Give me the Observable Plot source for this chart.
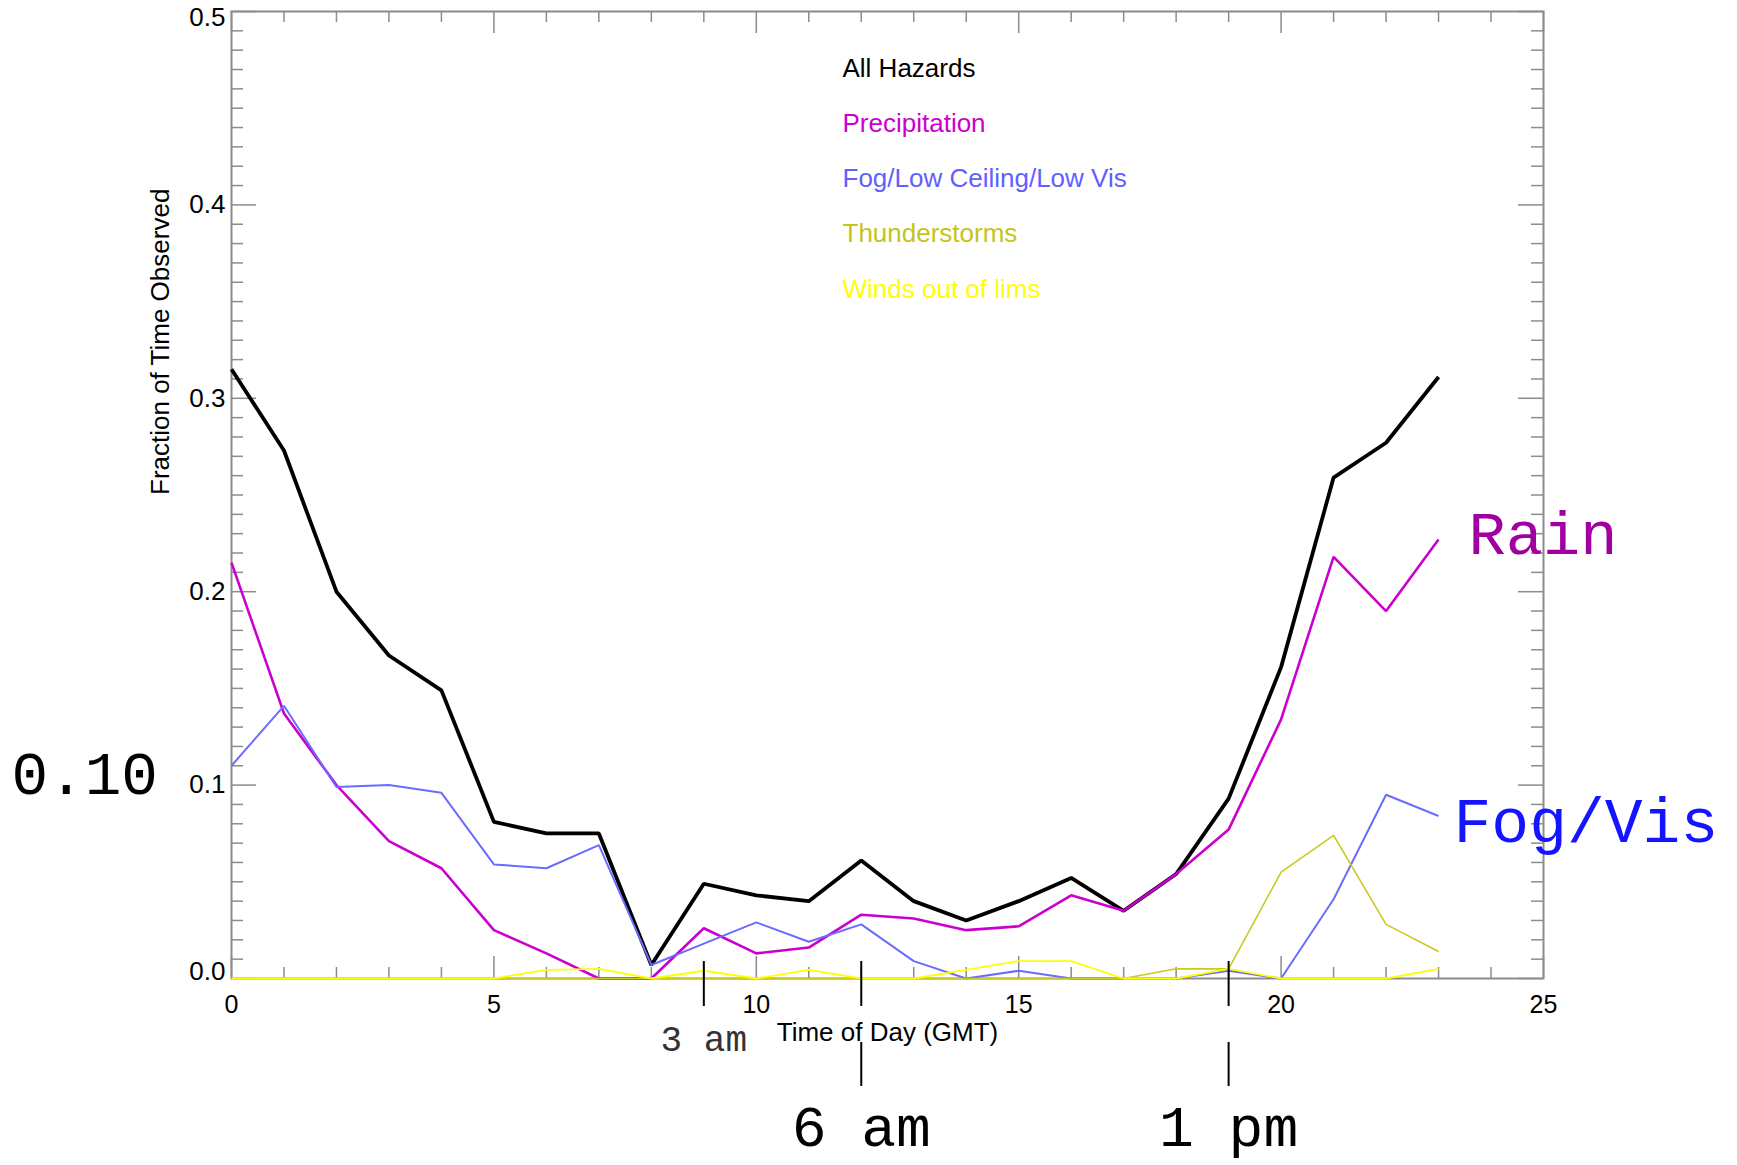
<!DOCTYPE html>
<html>
<head>
<meta charset="utf-8">
<script src="https://cdn.jsdelivr.net/npm/d3@7"></script>
<script src="https://cdn.jsdelivr.net/npm/@observablehq/plot@0.6"></script>
<style>
html, body { margin: 0; padding: 0; background: #fff; }
#chart svg { display: block; }
</style>
</head>
<body>
<div id="chart"></div>
<script>
// ---- data ----
const hours = [0,1,2,3,4,5,6,7,8,9,10,11,12,13,14,15,16,17,18,19,20,21,22,23];
const allHazards    = [0.315,0.273,0.200,0.167,0.149,0.081,0.075,0.075,0.007,0.049,0.043,0.040,0.061,0.040,0.030,0.040,0.052,0.035,0.054,0.093,0.161,0.259,0.277,0.311];
const precipitation = [0.215,0.137,0.100,0.071,0.057,0.025,0.013,0.000,0.000,0.026,0.013,0.016,0.033,0.031,0.025,0.027,0.043,0.035,0.054,0.077,0.134,0.218,0.190,0.227];
const fogLowVis     = [0.110,0.141,0.099,0.100,0.096,0.059,0.057,0.069,0.007,0.018,0.029,0.019,0.028,0.009,0.000,0.004,0.000,0.000,0.000,0.004,0.000,0.041,0.095,0.084];
const thunderstorms = [0,0,0,0,0,0,0,0,0,0,0,0,0,0,0,0,0,0,0.005,0.005,0.055,0.074,0.028,0.014];
const windsOutOfLims= [0,0,0,0,0,0,0.0045,0.005,0,0.004,0,0.0045,0,0,0.0045,0.009,0.009,0,0,0.005,0,0,0,0.005];

const seriesNames = ["All Hazards","Precipitation","Fog/Low Ceiling/Low Vis","Thunderstorms","Winds out of lims"];
const xMajorTicks = [0,5,10,15,20,25];
const yMajorTicks = [0.0,0.1,0.2,0.3,0.4,0.5];
const markerHours = [9,12,19];
const markerLabels = ["3 am","6 am","1 pm"];
const refValue = 0.10;
const refLabel = "0.10";
const xLabel = "Time of Day (GMT)";
const yLabel = "Fraction of Time Observed";

// ---- styles / layout ----
const W = 1737, H = 1165;
const mL = 231, mR = 194, mT = 11, mB = 187;
const FW = W - mL - mR, FH = H - mT - mB;
const seriesValues = [allHazards, precipitation, fogLowVis, thunderstorms, windsOutOfLims];
const lineStyles = [
  {stroke: "#000000", width: 3.8},
  {stroke: "#cc00cc", width: 2.6},
  {stroke: "#6b6bff", width: 2.0},
  {stroke: "#c9c924", width: 1.6},
  {stroke: "#ffff00", width: 1.8}
];
const legendColors = ["#000000","#cc00cc","#6060ff","#c4c41a","#ffff00"];
const axisGray = "#8c8c8c";
const sans = "Liberation Sans, Arial, Helvetica, sans-serif";
const mono = "Liberation Mono, Courier New, Courier, monospace";

const table = seriesNames.flatMap((name, s) =>
  hours.map((h, i) => ({series: name, hour: h, value: seriesValues[s][i]})));

const xMinorTicks = d3.range(0, 26).filter(d => d % 5 !== 0);
const yMinorTicks = d3.range(0, 51).filter(d => d % 10 !== 0).map(d => d / 100);
const fmtY = d3.format(".1f");

const marks = [];

// ticks (inward, on all four sides)
marks.push(Plot.ruleX(xMajorTicks, {x: d => d, insetTop: FH - 22, stroke: axisGray, strokeWidth: 1.5}));
marks.push(Plot.ruleX(xMajorTicks, {x: d => d, insetBottom: FH - 22, stroke: axisGray, strokeWidth: 1.5}));
marks.push(Plot.ruleX(xMinorTicks, {x: d => d, insetTop: FH - 11, stroke: axisGray, strokeWidth: 1.5}));
marks.push(Plot.ruleX(xMinorTicks, {x: d => d, insetBottom: FH - 11, stroke: axisGray, strokeWidth: 1.5}));
marks.push(Plot.ruleY(yMajorTicks, {y: d => d, insetRight: FW - 25, stroke: axisGray, strokeWidth: 1.5}));
marks.push(Plot.ruleY(yMajorTicks, {y: d => d, insetLeft: FW - 25, stroke: axisGray, strokeWidth: 1.5}));
marks.push(Plot.ruleY(yMinorTicks, {y: d => d, insetRight: FW - 12, stroke: axisGray, strokeWidth: 1.5}));
marks.push(Plot.ruleY(yMinorTicks, {y: d => d, insetLeft: FW - 12, stroke: axisGray, strokeWidth: 1.5}));
marks.push(Plot.frame({stroke: axisGray, strokeWidth: 2}));

// tick labels
marks.push(Plot.text(xMajorTicks, {x: d => d, frameAnchor: "bottom", lineAnchor: "middle", dy: 26, text: d => String(d),
  fontSize: 25, fill: "#000", fontFamily: sans}));
const yLabelOffsets = [-7, 0, 0, 0, 0, 6];
yMajorTicks.forEach((t, i) => {
  marks.push(Plot.text([t], {y: d => d, frameAnchor: "left", lineAnchor: "middle", dx: -6, dy: yLabelOffsets[i],
    textAnchor: "end", text: d => fmtY(d), fontSize: 26, fill: "#000", fontFamily: sans}));
});

// axis titles
marks.push(Plot.text([xLabel], {frameAnchor: "bottom", lineAnchor: "middle", dy: 54, text: d => d,
  fontSize: 26, fill: "#000", fontFamily: sans}));
marks.push(Plot.text([yLabel], {frameAnchor: "left", lineAnchor: "middle", dx: -71, rotate: -90, text: d => d,
  fontSize: 26, fill: "#000", fontFamily: sans}));

// series lines
seriesNames.forEach((name, s) => {
  marks.push(Plot.line(table.filter(d => d.series === name), {
    x: "hour", y: "value", stroke: lineStyles[s].stroke, strokeWidth: lineStyles[s].width,
    strokeLinejoin: "miter", strokeLinecap: "butt"
  }));
});

// in-plot legend
seriesNames.forEach((name, i) => {
  marks.push(Plot.text([name], {frameAnchor: "top-left", lineAnchor: "middle", dx: 611, dy: 57 + i * 55.2,
    textAnchor: "start", text: d => d, fill: legendColors[i], fontSize: 26, fontFamily: sans}));
});

// local-time markers
marks.push(Plot.ruleX(markerHours, {x: d => d, insetTop: FH - 17, insetBottom: -28, stroke: "#000", strokeWidth: 2}));
marks.push(Plot.ruleX(markerHours.slice(1), {x: d => d, insetTop: FH + 64, insetBottom: -108, stroke: "#000", strokeWidth: 2}));
marks.push(Plot.text([0], {x: i => markerHours[i], frameAnchor: "bottom", lineAnchor: "middle", dy: 61,
  text: i => markerLabels[i], fontSize: 36, fill: "#333", fontFamily: mono}));
marks.push(Plot.text([1, 2], {x: i => markerHours[i], frameAnchor: "bottom", lineAnchor: "middle", dy: 149,
  text: i => markerLabels[i], fontSize: 58, fill: "#000", fontFamily: mono}));

// annotations
marks.push(Plot.text([23], {x: i => hours[i], y: i => precipitation[i], dx: 30, dy: -5, textAnchor: "start",
  lineAnchor: "middle", text: () => "Rain", fontSize: 62, fill: "#a000a0", fontFamily: mono}));
marks.push(Plot.text([23], {x: i => hours[i], y: i => fogLowVis[i], dx: 15, dy: 6, textAnchor: "start",
  lineAnchor: "middle", text: () => "Fog/Vis", fontSize: 63, fill: "#1414ff", fontFamily: mono}));
marks.push(Plot.text([refValue], {y: d => d, frameAnchor: "left", lineAnchor: "middle", dx: -220, dy: -11,
  textAnchor: "start", text: () => refLabel, fontSize: 61, fill: "#000", fontFamily: mono}));

const chart = Plot.plot({
  width: W, height: H,
  marginLeft: mL, marginRight: mR, marginTop: mT, marginBottom: mB,
  x: {domain: [0, 25], axis: null},
  y: {domain: [0, 0.5], axis: null},
  style: {background: "#fff", fontFamily: sans, overflow: "visible"},
  marks
});
document.getElementById("chart").appendChild(chart);
</script>
</body>
</html>
